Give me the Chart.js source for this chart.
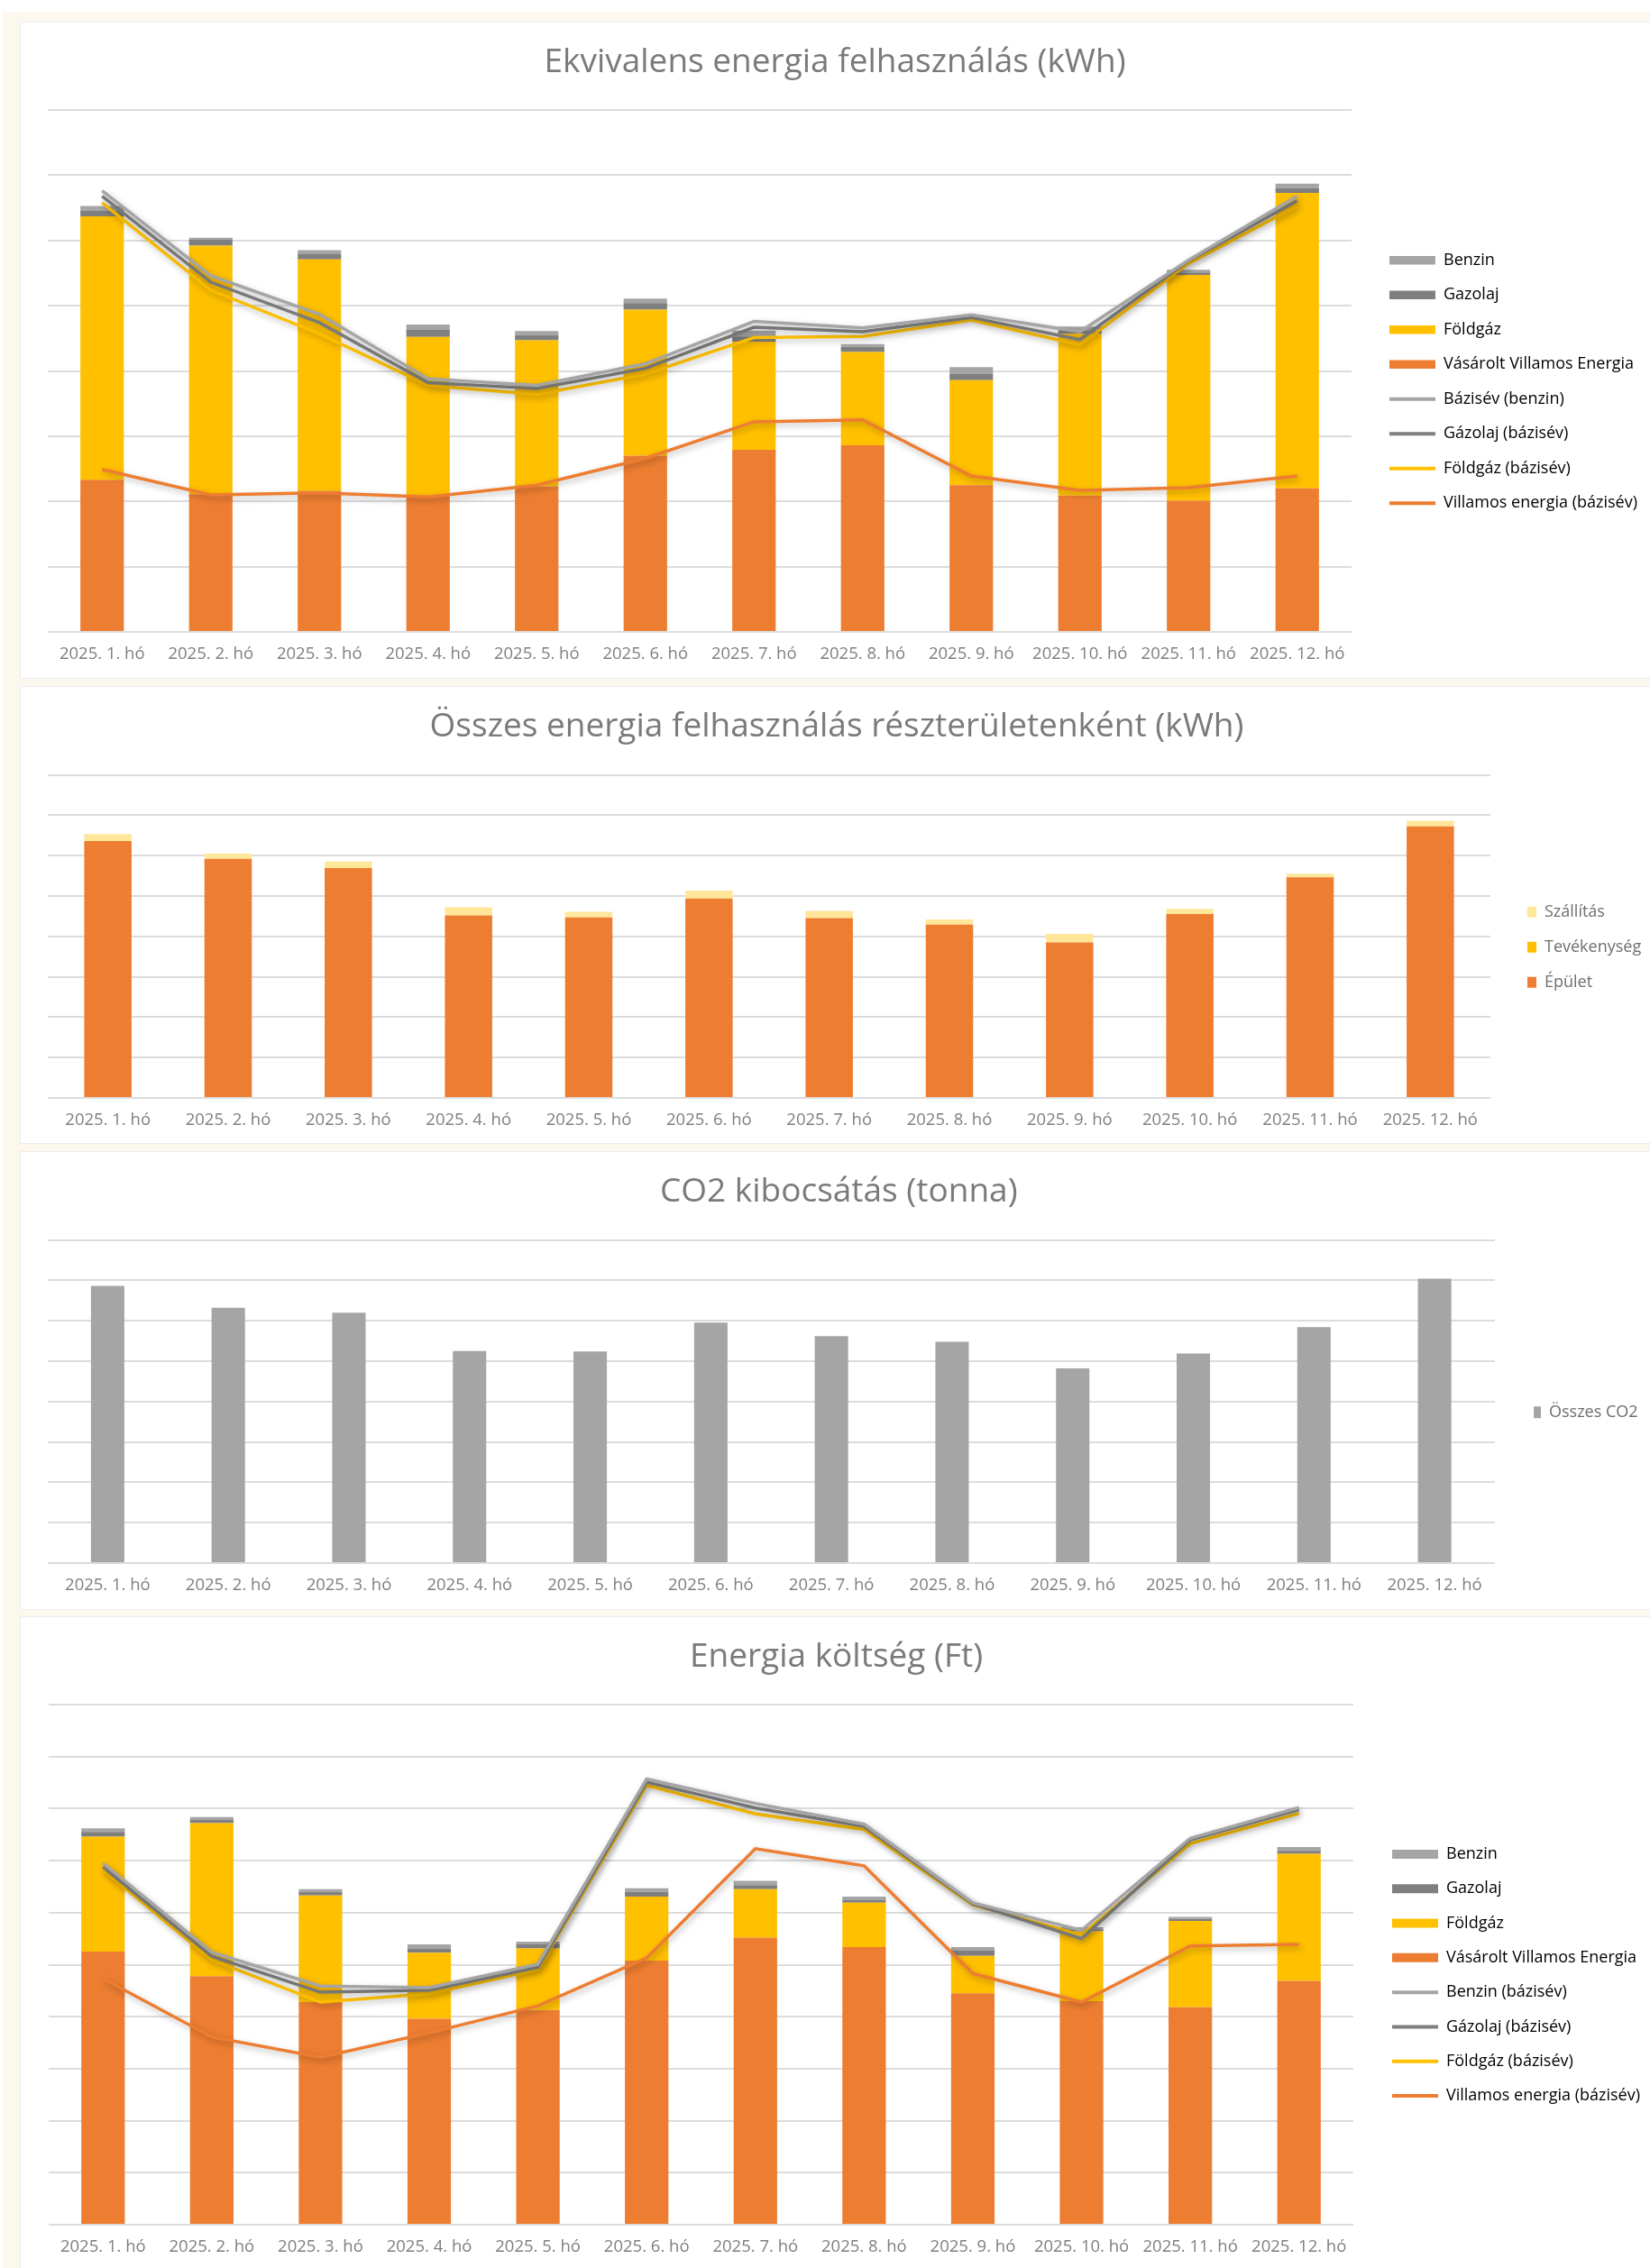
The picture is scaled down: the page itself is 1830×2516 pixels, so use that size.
<!DOCTYPE html>
<html lang="hu">
<head>
<meta charset="utf-8">
<title>Energia riport</title>
<script src="https://cdn.jsdelivr.net/npm/chart.js@4.4.1/dist/chart.umd.min.js"></script>
<style>
    html, body { margin: 0; padding: 0; background: #fff; overflow: hidden; }
    body { width: 1830px; height: 2516px; position: relative; }
    .keret { position: absolute; left: 3px; top: 13px; right: 0; bottom: 0; background: #fcf8ee; }
    .panel { position: absolute; left: 22px; width: 1826px; background: #fff; border: 1px solid #ecebef; box-sizing: border-box; }
    .panel canvas { position: absolute; left: -1px; top: -1px; }
</style>
</head>
<body>
<div class="keret"></div>
<div class="panel" style="top:24px;height:729px"><canvas id="ekvivalens" width="1826" height="728"></canvas></div>
<div class="panel" style="top:761px;height:508px"><canvas id="reszterulet" width="1826" height="508"></canvas></div>
<div class="panel" style="top:1277px;height:509px"><canvas id="co2" width="1826" height="508"></canvas></div>
<div class="panel" style="top:1793px;height:740px"><canvas id="koltseg" width="1826" height="726"></canvas></div>
<script>
// a függőleges tengelyeken nincs felirat, ezért az értékek rácsvonal-egységben vannak
const honapok = ['2025. 1. hó', '2025. 2. hó', '2025. 3. hó', '2025. 4. hó', '2025. 5. hó', '2025. 6. hó',
    '2025. 7. hó', '2025. 8. hó', '2025. 9. hó', '2025. 10. hó', '2025. 11. hó', '2025. 12. hó'];

// Ekvivalens energia felhasználás (kWh)
const ekvVillamos = [2.33, 2.11, 2.16, 2.09, 2.23, 2.70, 2.79, 2.86, 2.25, 2.09, 2.01, 2.20];
const ekvFoldgaz = [4.04, 3.81, 3.55, 2.43, 2.24, 2.24, 1.66, 1.43, 1.61, 2.48, 3.46, 4.53];
const ekvGazolaj = [0.09, 0.09, 0.08, 0.11, 0.08, 0.10, 0.08, 0.08, 0.10, 0.05, 0.04, 0.07];
const ekvBenzin = [0.07, 0.03, 0.06, 0.08, 0.06, 0.07, 0.09, 0.04, 0.10, 0.06, 0.04, 0.07];
const ekvBenzinBazis = [6.76, 5.46, 4.87, 3.88, 3.78, 4.11, 4.76, 4.66, 4.86, 4.60, 5.70, 6.68];
const ekvGazolajBazis = [6.68, 5.36, 4.74, 3.82, 3.73, 4.04, 4.67, 4.60, 4.82, 4.48, 5.69, 6.61];
const ekvFoldgazBazis = [6.58, 5.24, 4.57, 3.78, 3.64, 3.95, 4.51, 4.53, 4.78, 4.40, 5.65, 6.53];
const ekvVillamosBazis = [2.49, 2.10, 2.13, 2.07, 2.25, 2.66, 3.22, 3.25, 2.39, 2.17, 2.21, 2.39];

// Összes energia felhasználás részterületenként (kWh)
const reszEpulet = [6.36, 5.92, 5.69, 4.52, 4.47, 4.94, 4.45, 4.29, 3.85, 4.55, 5.46, 6.72];
const reszTevekenyseg = [0, 0, 0, 0, 0, 0, 0, 0, 0, 0, 0, 0];
const reszSzallitas = [0.17, 0.13, 0.16, 0.20, 0.14, 0.19, 0.18, 0.13, 0.21, 0.13, 0.09, 0.14];

// CO2 kibocsátás (tonna)
const osszesCo2 = [6.86, 6.32, 6.20, 5.25, 5.24, 5.95, 5.62, 5.48, 4.82, 5.19, 5.84, 7.04];

// Energia költség (Ft)
const ktgVillamos = [5.25, 4.78, 4.28, 3.96, 4.13, 5.08, 5.52, 5.34, 4.45, 4.30, 4.18, 4.69];
const ktgFoldgaz = [2.21, 2.94, 2.05, 1.27, 1.18, 1.23, 0.93, 0.85, 0.72, 1.34, 1.66, 2.44];
const ktgGazolaj = [0.09, 0.07, 0.07, 0.08, 0.08, 0.09, 0.08, 0.06, 0.10, 0.04, 0.04, 0.06];
const ktgBenzin = [0.07, 0.05, 0.05, 0.08, 0.05, 0.07, 0.08, 0.06, 0.07, 0.04, 0.04, 0.07];
const ktgBenzinBazis = [6.95, 5.24, 4.59, 4.56, 5.01, 8.57, 8.10, 7.70, 6.19, 5.66, 7.43, 8.02];
const ktgGazolajBazis = [6.88, 5.16, 4.47, 4.51, 4.95, 8.51, 8.01, 7.66, 6.17, 5.50, 7.40, 7.98];
const ktgFoldgazBazis = [6.82, 5.09, 4.28, 4.44, 4.91, 8.45, 7.90, 7.60, 6.15, 5.57, 7.33, 7.91];
const ktgVillamosBazis = [4.73, 3.61, 3.22, 3.69, 4.21, 5.13, 7.23, 6.90, 4.83, 4.28, 5.36, 5.39];

const NARANCS = '#ed7d31';
const SARGA = '#ffc000';
const VILAGOSSARGA = '#ffe699';
const SZURKE = '#a5a5a5';
const SOTETSZURKE = '#7f7f7f';

Chart.defaults.font.family = '"Open Sans"';
Chart.defaults.animation = false;

// vonalak alatti lágy árnyék, mint az Excel diagramon
const arnyek = {
    id: 'arnyek',
    beforeDatasetDraw(chart, args) {
        if (args.meta.type !== 'line') return;
        const ctx = chart.ctx;
        ctx.save();
        ctx.shadowColor = 'rgba(0, 0, 0, 0.28)';
        ctx.shadowBlur = 7;
        ctx.shadowOffsetX = 2;
        ctx.shadowOffsetY = 3;
    },
    afterDatasetDraw(chart, args) {
        if (args.meta.type !== 'line') return;
        chart.ctx.restore();
    }
};

// a jelmagyarázat szélessége és helye rögzített, a rajzterülethez igazítva
const jelmagyarazat = {
    id: 'jelmagyarazat',
    beforeInit(chart, args, opts) {
        const lg = chart.legend;
        const fit = lg.fit;
        lg.fit = function () {
            fit.call(this);
            this.width = opts.width;
        };
    },
    afterLayout(chart, args, opts) {
        const lg = chart.legend;
        const area = chart.chartArea;
        const w = lg.right - lg.left;
        const h = lg.bottom - lg.top;
        const c = (area.top + area.bottom) / 2 + opts.dy;
        lg.left = area.right + opts.gap;
        lg.right = lg.left + w;
        lg.top = c - h / 2;
        lg.bottom = c + h / 2;
    }
};

const oszlop = (label, data, color) => ({
    type: 'bar', label, data, backgroundColor: color, borderWidth: 0, order: 1, stack: 'oszlop'
});

const vonal = (label, data, color, stack) => ({
    type: 'line', label, data, borderColor: color, backgroundColor: color, borderWidth: 3.5,
    pointRadius: 0, tension: 0, fill: false, order: 0, stack
});

// Excel-szerű sorrend: oszlopok fordítva, utána a vonalak
const vegyesCimkek = (chart) => {
    const items = chart.data.datasets.map((ds, i) => ({
        text: ds.label,
        fillStyle: ds.type === 'line' ? 'rgba(0,0,0,0)' : ds.backgroundColor,
        strokeStyle: ds.borderColor || ds.backgroundColor,
        lineWidth: ds.type === 'line' ? 4 : 0,
        pointStyle: ds.type === 'line' ? 'line' : 'rect',
        hidden: false,
        datasetIndex: i
    }));
    const bars = items.filter((it, i) => chart.data.datasets[i].type === 'bar').reverse();
    const lines = items.filter((it, i) => chart.data.datasets[i].type === 'line');
    return bars.concat(lines);
};

const beallitasok = (cim, ymax, barPct, lay, legend) => ({
    responsive: false,
    maintainAspectRatio: false,
    layout: { padding: lay.padding },
    datasets: { bar: { barPercentage: barPct, categoryPercentage: 1 } },
    scales: {
        x: {
            stacked: true,
            grid: { display: false, drawTicks: false },
            border: { display: false },
            ticks: { color: '#7f7f7f', font: { size: 18.5 }, padding: 14, maxRotation: 0, autoSkip: false }
        },
        y: {
            stacked: true,
            min: 0,
            max: ymax,
            grid: { color: '#dcdcdc', lineWidth: 2, drawTicks: false },
            border: { display: false },
            ticks: { display: false, stepSize: 1 }
        }
    },
    plugins: {
        title: {
            display: true,
            text: cim,
            color: '#7a7a7a',
            font: { size: 37, weight: 'normal' },
            padding: { top: lay.titleTop, bottom: lay.titleBottom }
        },
        legend: Object.assign({ position: 'right' }, legend.options),
        tooltip: { enabled: false },
        jelmagyarazat: legend.place
    }
});

const ekvCtx = document.getElementById('ekvivalens').getContext('2d');
new Chart(ekvCtx, {
    data: {
        labels: honapok,
        datasets: [
            oszlop('Vásárolt Villamos Energia', ekvVillamos, NARANCS),
            oszlop('Földgáz', ekvFoldgaz, SARGA),
            oszlop('Gazolaj', ekvGazolaj, SOTETSZURKE),
            oszlop('Benzin', ekvBenzin, SZURKE),
            vonal('Bázisév (benzin)', ekvBenzinBazis, SZURKE, 'v1'),
            vonal('Gázolaj (bázisév)', ekvGazolajBazis, SOTETSZURKE, 'v2'),
            vonal('Földgáz (bázisév)', ekvFoldgazBazis, SARGA, 'v3'),
            vonal('Villamos energia (bázisév)', ekvVillamosBazis, NARANCS, 'v4')
        ]
    },
    options: beallitasok('Ekvivalens energia felhasználás (kWh)', 8, 0.4,
        { padding: { top: 10, left: 31, right: 49, bottom: 0.8 }, titleTop: 13.5, titleBottom: 30.1 },
        {
            options: {
                labels: {
                    color: '#6e6e6e', font: { size: 18 }, padding: 20.5,
                    usePointStyle: true, pointStyleWidth: 51, boxHeight: 9.5,
                    generateLabels: vegyesCimkek
                }
            },
            place: { width: 300, gap: 21.5, dy: 12 }
        }),
    plugins: [arnyek, jelmagyarazat]
});

const reszCtx = document.getElementById('reszterulet').getContext('2d');
new Chart(reszCtx, {
    data: {
        labels: honapok,
        datasets: [
            oszlop('Épület', reszEpulet, NARANCS),
            oszlop('Tevékenység', reszTevekenyseg, SARGA),
            oszlop('Szállítás', reszSzallitas, VILAGOSSARGA)
        ]
    },
    options: beallitasok('Összes energia felhasználás részterületenként (kWh)', 8, 0.394,
        { padding: { top: 10, left: 31, right: 45, bottom: 0.8 }, titleTop: 13.5, titleBottom: 30.6 },
        {
            options: {
                reverse: true,
                labels: { color: '#6e6e6e', font: { size: 18 }, padding: 21, boxWidth: 10, boxHeight: 12 }
            },
            place: { width: 150, gap: 20, dy: 12 }
        }),
    plugins: [jelmagyarazat]
});

const co2Ctx = document.getElementById('co2').getContext('2d');
new Chart(co2Ctx, {
    data: {
        labels: honapok,
        datasets: [
            oszlop('Összes CO2', osszesCo2, SZURKE)
        ]
    },
    options: beallitasok('CO2 kibocsátás (tonna)', 8, 0.277,
        { padding: { top: 10, left: 30.5, right: 40, bottom: 0.8 }, titleTop: 13.5, titleBottom: 30.6 },
        {
            options: {
                labels: { color: '#6e6e6e', font: { size: 18 }, padding: 21, boxWidth: 8, boxHeight: 13 }
            },
            place: { width: 150, gap: 22, dy: 12 }
        }),
    plugins: [jelmagyarazat]
});

const ktgCtx = document.getElementById('koltseg').getContext('2d');
new Chart(ktgCtx, {
    data: {
        labels: honapok,
        datasets: [
            oszlop('Vásárolt Villamos Energia', ktgVillamos, NARANCS),
            oszlop('Földgáz', ktgFoldgaz, SARGA),
            oszlop('Gazolaj', ktgGazolaj, SOTETSZURKE),
            oszlop('Benzin', ktgBenzin, SZURKE),
            vonal('Benzin (bázisév)', ktgBenzinBazis, SZURKE, 'v1'),
            vonal('Gázolaj (bázisév)', ktgGazolajBazis, SOTETSZURKE, 'v2'),
            vonal('Földgáz (bázisév)', ktgFoldgazBazis, SARGA, 'v3'),
            vonal('Villamos energia (bázisév)', ktgVillamosBazis, NARANCS, 'v4')
        ]
    },
    options: beallitasok('Energia költség (Ft)', 10, 0.4,
        { padding: { top: 10, left: 32, right: 47, bottom: 0.8 }, titleTop: 13.5, titleBottom: 30.1 },
        {
            options: {
                labels: {
                    color: '#6e6e6e', font: { size: 18 }, padding: 20.3,
                    usePointStyle: true, pointStyleWidth: 51, boxHeight: 10,
                    generateLabels: vegyesCimkek
                }
            },
            place: { width: 300, gap: 22.7, dy: 11.5 }
        }),
    plugins: [arnyek, jelmagyarazat]
});
</script>
</body>
</html>
